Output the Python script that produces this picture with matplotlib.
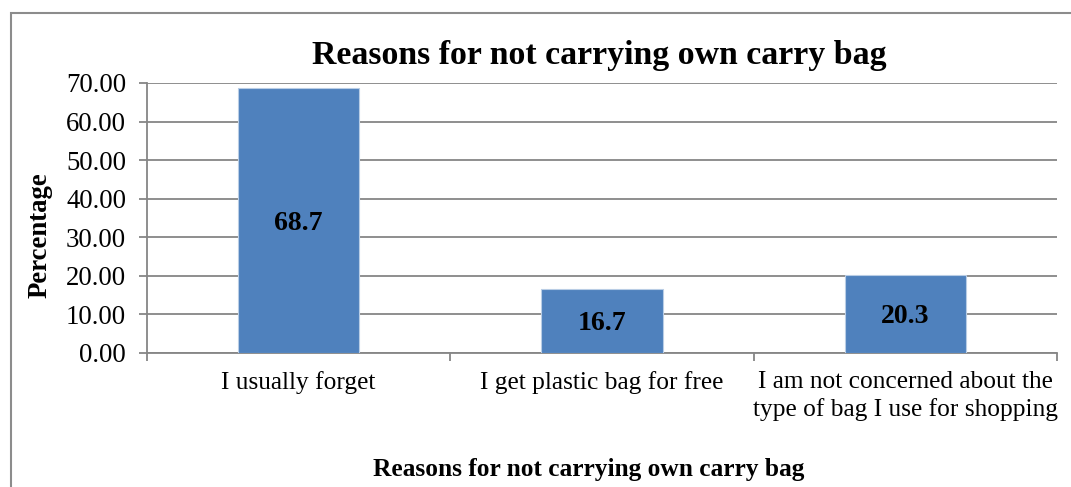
import matplotlib

matplotlib.use("Agg")
import matplotlib.pyplot as plt
from matplotlib.patches import Rectangle

categories = [
    "I usually forget",
    "I get plastic bag for free",
    "I am not concerned about the\ntype of bag I use for shopping",
]
percentages = [68.7, 16.7, 20.3]
y_ticks = [0, 10, 20, 30, 40, 50, 60, 70]

TITLE = "Reasons for not carrying own carry bag"
BAR_COLOR = "#4F81BD"
GRID_COLOR = "#868686"

plt.rcParams["font.family"] = ["Liberation Serif", "DejaVu Serif"]

fig = plt.figure(figsize=(10.71, 4.87), dpi=100)

# chart frame around everything
fig.patches.append(
    Rectangle((11 / 1071, -0.1), 1.2, 1.1 - 13 / 487,
              transform=fig.transFigure, fill=False,
              edgecolor="#8C8C8C", linewidth=1.5)
)

ax = fig.add_axes([147 / 1071, 134 / 487, 910 / 1071, 270 / 487])

x = list(range(len(categories)))
ax.bar(x, percentages, width=0.4, color=BAR_COLOR, edgecolor="#B9CDE5",
       linewidth=0.8, zorder=3)

for xi, v in zip(x, percentages):
    ax.text(xi, v / 2, f"{v:.1f}", ha="center", va="center_baseline",
            fontsize=20, fontweight="bold", color="black", zorder=4)

ax.set_xlim(-0.5, len(categories) - 0.5)
ax.set_ylim(0, 70)
ax.set_yticks(y_ticks)
ax.set_yticklabels([f"{t:.2f}" for t in y_ticks], fontsize=19.3)
ax.yaxis.grid(True, color=GRID_COLOR, linewidth=1.3, zorder=0)
ax.tick_params(axis="y", length=6, width=1.3, color=GRID_COLOR, pad=9)

ax.set_xticks(x)
ax.set_xticklabels(categories, fontsize=18.3, linespacing=1.27)
ax.set_xticks([i - 0.5 for i in range(len(categories) + 1)], minor=True)
ax.tick_params(axis="x", which="major", length=0, pad=13)
ax.tick_params(axis="x", which="minor", length=6, width=1.3, color=GRID_COLOR)

for side in ["top", "right"]:
    ax.spines[side].set_visible(False)
for side in ["left", "bottom"]:
    ax.spines[side].set_color(GRID_COLOR)
    ax.spines[side].set_linewidth(1.3)

fig.text(40 / 1071, 1 - 235 / 487, "Percentage", rotation=90, ha="center",
         va="center", fontsize=19.3, fontweight="bold")
fig.text(589 / 1071, 1 - 476 / 487, TITLE, ha="center", va="baseline",
         fontsize=18.3, fontweight="bold")
fig.text(599 / 1071, 1 - 64 / 487, TITLE, ha="center", va="baseline",
         fontsize=24.4, fontweight="bold")

fig.savefig("out.png", dpi=100)
